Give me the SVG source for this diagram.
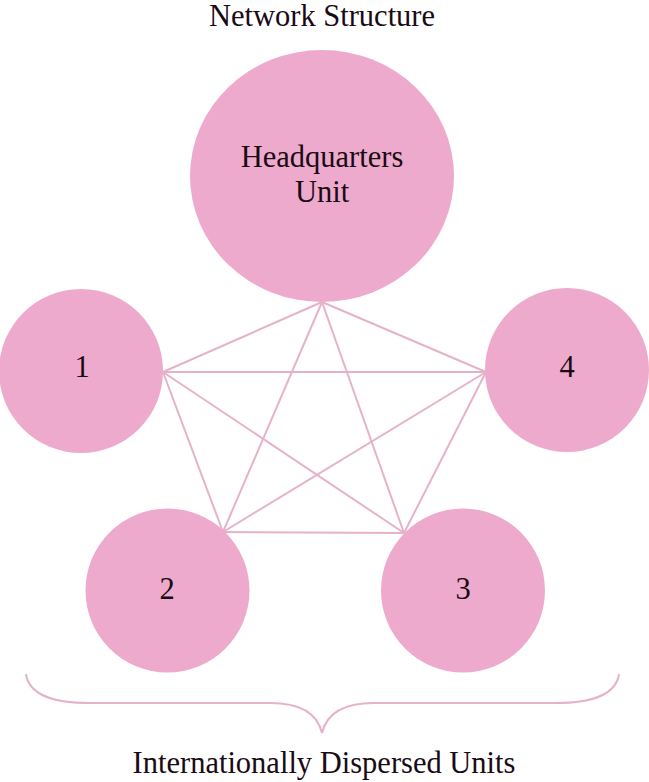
<svg xmlns="http://www.w3.org/2000/svg" width="649" height="782" viewBox="0 0 649 782">
<style>
.node{fill:#eeaacc;}
.lbl{font-family:"Liberation Serif","Times New Roman",serif;font-size:30.5px;fill:#1a0a14;text-anchor:middle;}
.edge{stroke:#e6b2ca;stroke-width:2;fill:none;}
</style>
<rect width="649" height="782" fill="#ffffff"/>
<text class="lbl" x="322" y="26">Network Structure</text>
<g id="connectors">
<line class="edge" x1="322" y1="302" x2="163" y2="372"/>
<line class="edge" x1="322" y1="302" x2="486" y2="372"/>
<line class="edge" x1="322" y1="302" x2="223" y2="532"/>
<line class="edge" x1="322" y1="302" x2="404" y2="533"/>
<line class="edge" x1="163" y1="372" x2="486" y2="372"/>
<line class="edge" x1="163" y1="372" x2="223" y2="532"/>
<line class="edge" x1="163" y1="372" x2="404" y2="533"/>
<line class="edge" x1="486" y1="372" x2="223" y2="532"/>
<line class="edge" x1="486" y1="372" x2="404" y2="533"/>
<line class="edge" x1="223" y1="532" x2="404" y2="533"/>
</g>
<g id="hq">
<ellipse class="node" cx="322" cy="176" rx="132" ry="126"/>
<text class="lbl" x="322" y="167">Headquarters</text>
<text class="lbl" x="322" y="202">Unit</text>
</g>
<g id="unit1">
<circle class="node" cx="81" cy="371" r="82"/>
<text class="lbl" x="82" y="377">1</text>
</g>
<g id="unit4">
<circle class="node" cx="567" cy="370" r="82"/>
<text class="lbl" x="567" y="377">4</text>
</g>
<g id="unit2">
<circle class="node" cx="167.5" cy="590.5" r="82"/>
<text class="lbl" x="167" y="599">2</text>
</g>
<g id="unit3">
<circle class="node" cx="463" cy="590.5" r="82"/>
<text class="lbl" x="463" y="599">3</text>
</g>
<g id="brace">
<path class="edge" d="M26 674 Q30 703 90 703 L270 703 Q315 703 322 733 Q329 703 374 703 L555 703 Q615 703 619 674"/>
<text class="lbl" x="324" y="773">Internationally Dispersed Units</text>
</g>
</svg>
